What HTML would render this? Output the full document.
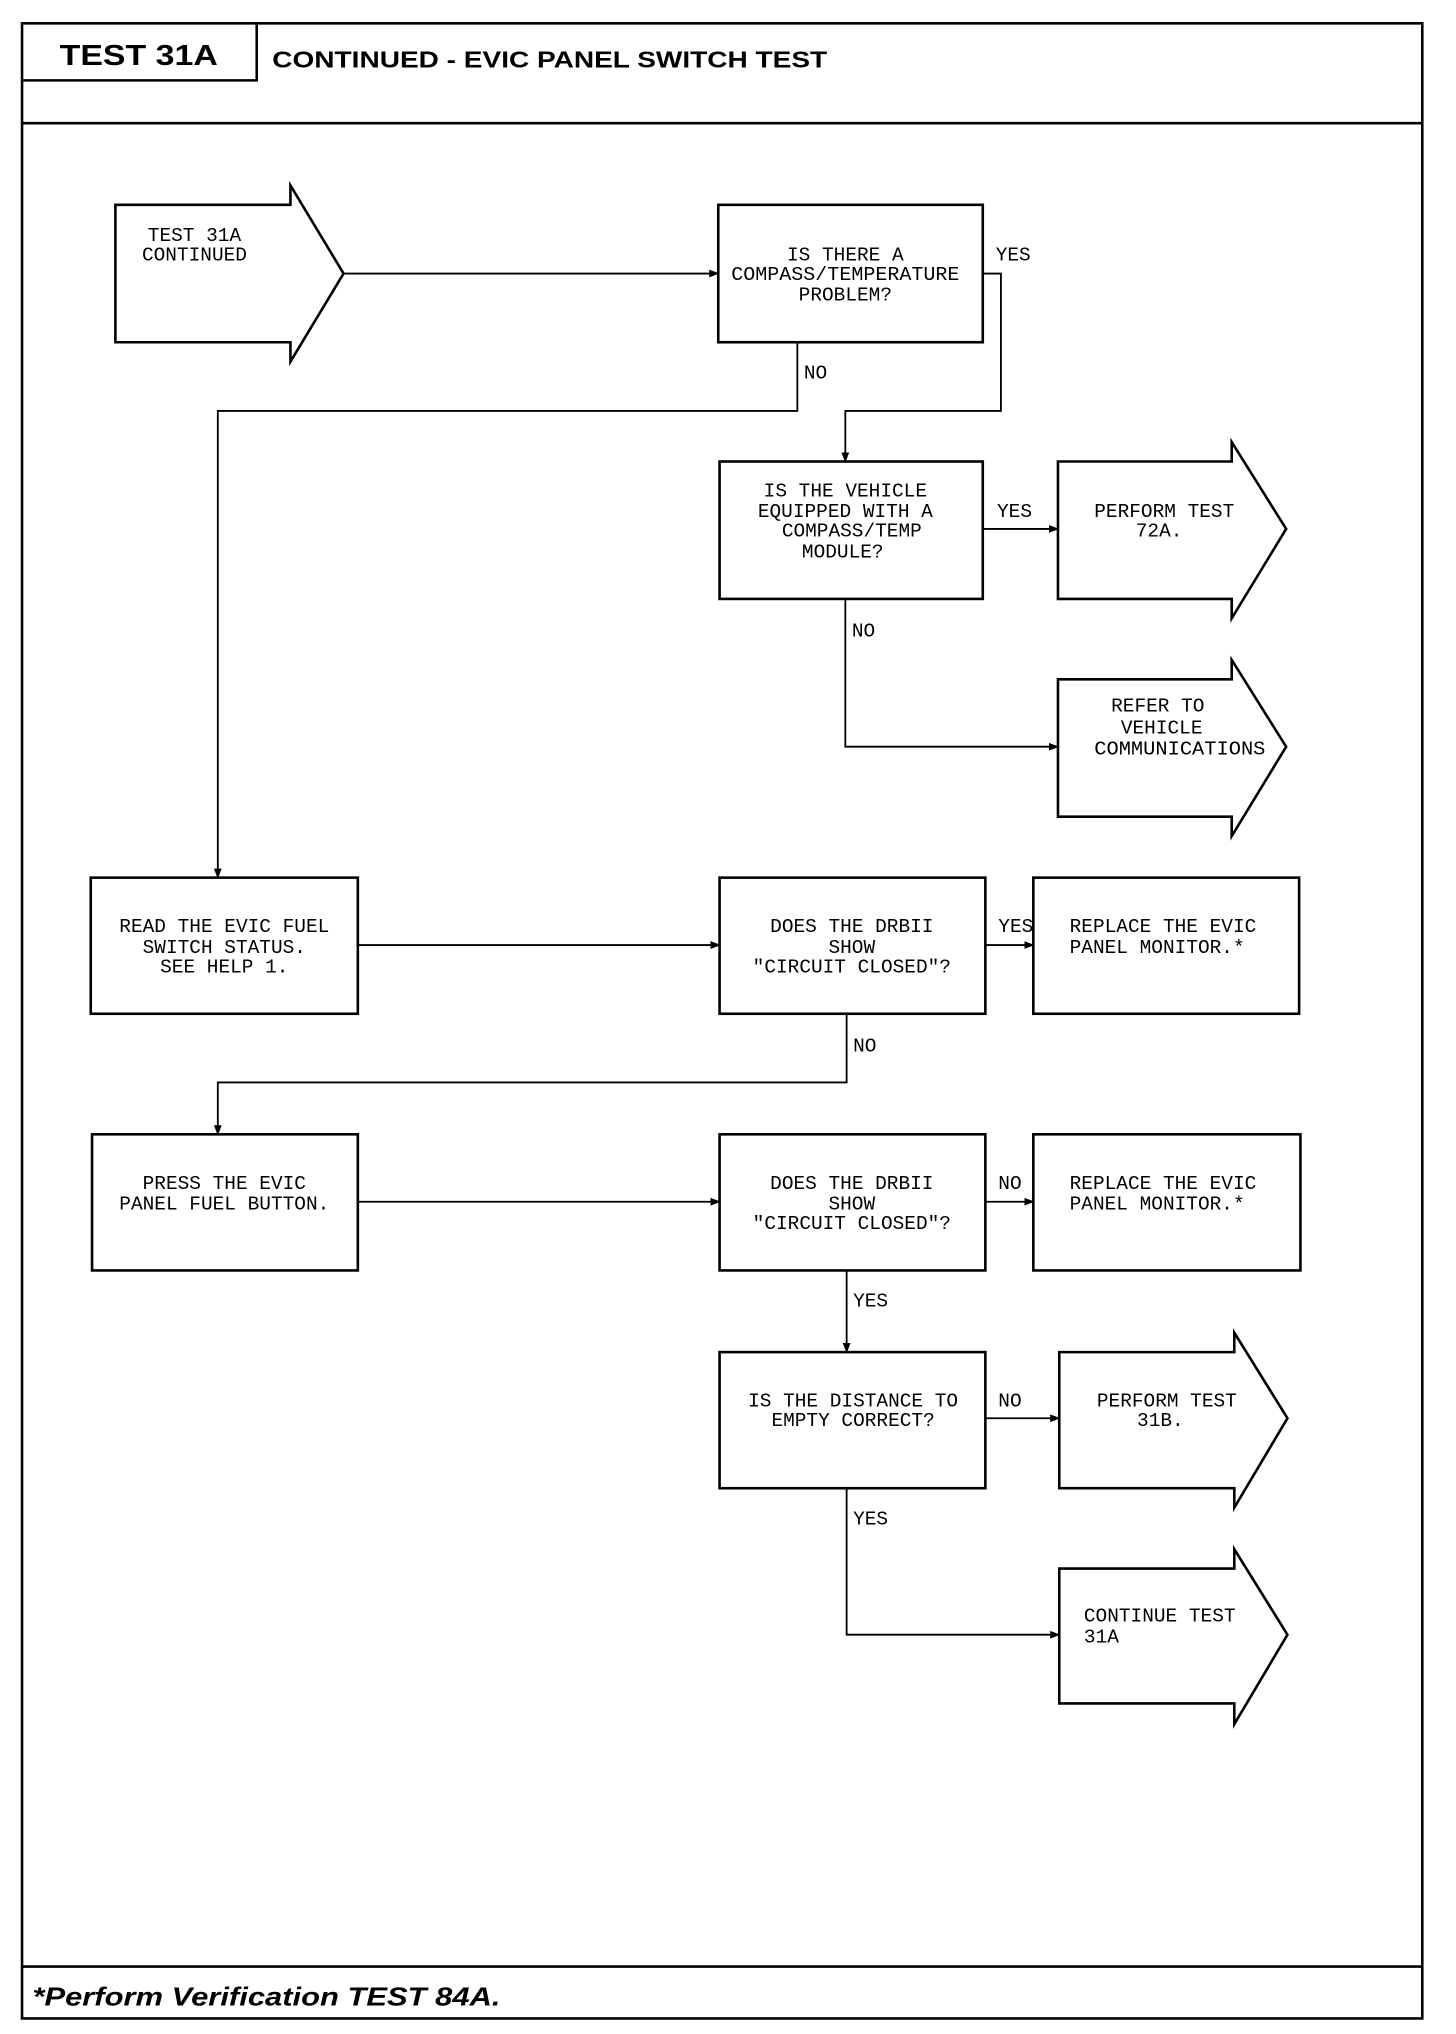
<!DOCTYPE html>
<html><head><meta charset="utf-8"><style>
html,body{margin:0;padding:0;background:#fff}
svg{display:block}
.t{font-family:"Liberation Mono",monospace;font-size:15px;fill:#000}
</style></head><body>
<svg width="1456" height="2034" viewBox="0 0 1123 1569" xmlns="http://www.w3.org/2000/svg" preserveAspectRatio="none">
<defs><marker id="a" markerWidth="8" markerHeight="8" refX="7" refY="4" orient="auto" markerUnits="userSpaceOnUse"><path d="M0,1 L8,4 L0,7 Z" fill="#000"/></marker></defs>
<g fill="none" stroke="#000" stroke-width="2">
<rect x="17" y="18" width="1080" height="1539"/>
<line x1="17" y1="95" x2="1097" y2="95"/>
<polyline points="17,62 198,62 198,18"/>
<line x1="17" y1="1517" x2="1097" y2="1517"/>
<!-- nodes -->
<polygon points="89,158 224,158 224,143 265,211 224,279 224,264 89,264"/>
<rect x="554" y="158" width="204" height="106"/>
<rect x="555" y="356" width="203" height="106"/>
<polygon points="816,356 950,356 950,341 992,408 950,477 950,462 816,462"/>
<polygon points="816,524 950,524 950,509 992,576 950,645 950,630 816,630"/>
<rect x="70" y="677" width="206" height="105"/>
<rect x="555" y="677" width="205" height="105"/>
<rect x="797" y="677" width="205" height="105"/>
<rect x="71" y="875" width="205" height="105"/>
<rect x="555" y="875" width="205" height="105"/>
<rect x="797" y="875" width="206" height="105"/>
<rect x="555" y="1043" width="205" height="105"/>
<polygon points="817,1043 952,1043 952,1028 993,1094 952,1163 952,1148 817,1148"/>
<polygon points="817,1210 952,1210 952,1195 993,1261 952,1330 952,1314 817,1314"/>
</g>
<g fill="none" stroke="#000" stroke-width="1.4">
<line x1="265" y1="211" x2="554" y2="211" marker-end="url(#a)"/>
<polyline points="758,211 772,211 772,317 652,317 652,356" marker-end="url(#a)"/>
<polyline points="615,264 615,317 168,317 168,677" marker-end="url(#a)"/>
<line x1="758" y1="408" x2="816" y2="408" marker-end="url(#a)"/>
<polyline points="652,462 652,576 816,576" marker-end="url(#a)"/>
<line x1="276" y1="729" x2="555" y2="729" marker-end="url(#a)"/>
<line x1="760" y1="729" x2="797" y2="729" marker-end="url(#a)"/>
<polyline points="653,782 653,835 168,835 168,875" marker-end="url(#a)"/>
<line x1="276" y1="927" x2="555" y2="927" marker-end="url(#a)"/>
<line x1="760" y1="927" x2="797" y2="927" marker-end="url(#a)"/>
<line x1="653" y1="980" x2="653" y2="1043" marker-end="url(#a)"/>
<line x1="760" y1="1094" x2="817" y2="1094" marker-end="url(#a)"/>
<polyline points="653,1148 653,1261 817,1261" marker-end="url(#a)"/>
</g>
<g font-family="Liberation Sans,sans-serif" font-weight="bold">
<text x="46" y="50" font-size="22" textLength="122" lengthAdjust="spacingAndGlyphs">TEST 31A</text>
<text x="210" y="52" font-size="18" textLength="428" lengthAdjust="spacingAndGlyphs">CONTINUED - EVIC PANEL SWITCH TEST</text>
<text x="25" y="1547" font-size="20" font-style="italic" textLength="361" lengthAdjust="spacingAndGlyphs">*Perform Verification TEST 84A.</text>
</g>
<g class="t" text-anchor="middle">
<text x="150" y="186">TEST 31A</text>
<text x="150" y="201">CONTINUED</text>
<text x="652" y="201">IS THERE A</text>
<text x="652" y="216" textLength="176" lengthAdjust="spacingAndGlyphs">COMPASS/TEMPERATURE</text>
<text x="652" y="232">PROBLEM?</text>
<text x="652" y="383">IS THE VEHICLE</text>
<text x="652" y="399">EQUIPPED WITH A</text>
<text x="657" y="414">COMPASS/TEMP</text>
<text x="650" y="430">MODULE?</text>
<text x="898" y="399">PERFORM TEST</text>
<text x="894" y="414">72A.</text>
<text x="893" y="549">REFER TO</text>
<text x="896" y="566">VEHICLE</text>
<text x="910" y="582" textLength="132" lengthAdjust="spacingAndGlyphs">COMMUNICATIONS</text>
<text x="173" y="719">READ THE EVIC FUEL</text>
<text x="173" y="735">SWITCH STATUS.</text>
<text x="173" y="750">SEE HELP 1.</text>
<text x="657" y="719">DOES THE DRBII</text>
<text x="657" y="735">SHOW</text>
<text x="657" y="750">"CIRCUIT CLOSED"?</text>
<text x="173" y="917">PRESS THE EVIC</text>
<text x="173" y="933">PANEL FUEL BUTTON.</text>
<text x="657" y="917">DOES THE DRBII</text>
<text x="657" y="933">SHOW</text>
<text x="657" y="948">"CIRCUIT CLOSED"?</text>
<text x="658" y="1085">IS THE DISTANCE TO</text>
<text x="658" y="1100">EMPTY CORRECT?</text>
<text x="900" y="1085">PERFORM TEST</text>
<text x="895" y="1100">31B.</text>
</g>
<g class="t">
<text x="825" y="719">REPLACE THE EVIC</text>
<text x="825" y="735">PANEL MONITOR.*</text>
<text x="825" y="917">REPLACE THE EVIC</text>
<text x="825" y="933">PANEL MONITOR.*</text>
<text x="836" y="1251">CONTINUE TEST</text>
<text x="836" y="1267">31A</text>
<text x="768" y="201">YES</text>
<text x="620" y="292">NO</text>
<text x="769" y="399">YES</text>
<text x="657" y="491">NO</text>
<text x="770" y="719">YES</text>
<text x="658" y="811">NO</text>
<text x="770" y="917">NO</text>
<text x="658" y="1008">YES</text>
<text x="770" y="1085">NO</text>
<text x="658" y="1176">YES</text>
</g>
</svg>
</body></html>
